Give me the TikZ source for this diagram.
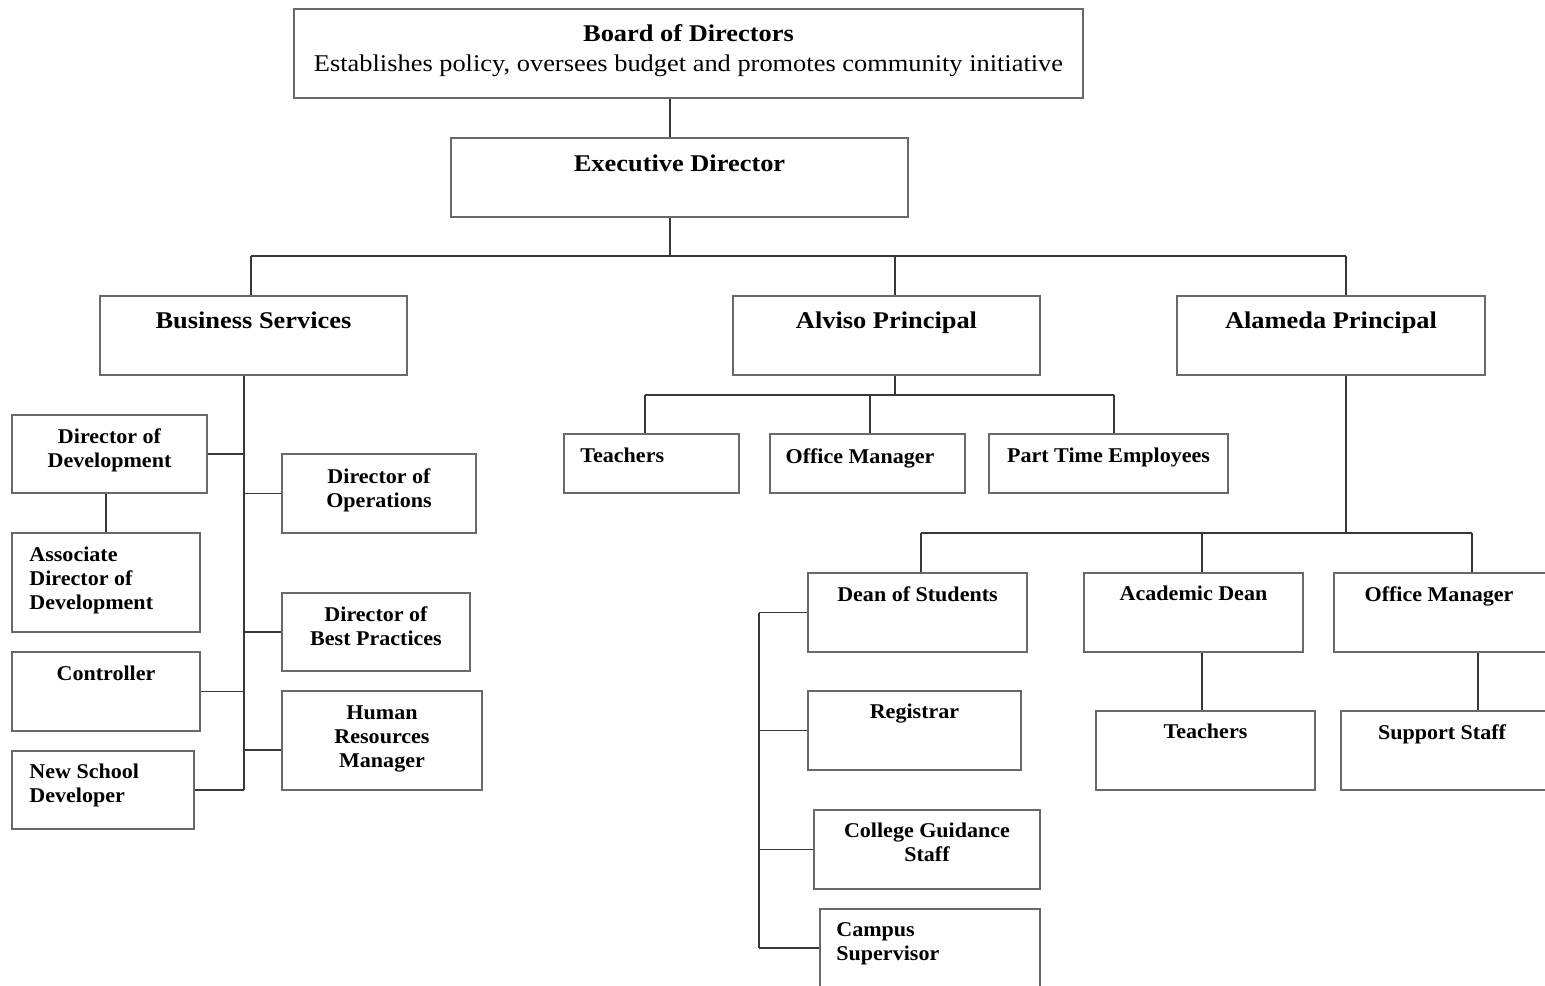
\documentclass[tikz,border=0pt]{standalone}
\usepackage{fontspec}
\setmainfont{Liberation Serif}
\newfontfamily\headfont[FakeStretch=1.1]{Liberation Serif}
\newfontfamily\lblfont[FakeStretch=1.05]{Liberation Serif}
\usetikzlibrary{positioning, fit}
\definecolor{boxgray}{RGB}{105,105,105}
\definecolor{linegray}{RGB}{55,55,55}

\begin{document}
\begin{tikzpicture}[x=0.5pt, y=-0.5pt,
  box/.style={draw=boxgray, line width=1pt, inner sep=0pt},
  conn/.style={draw=linegray, line width=0.95pt},
  head/.style={font=\headfont\fontsize{12}{15}\selectfont\bfseries, inner sep=0pt, align=center, anchor=north},
  lbl/.style={font=\lblfont\fontsize{10.5}{12}\selectfont\bfseries, inner sep=0pt, align=center, anchor=north},
  lbll/.style={lbl, align=left, anchor=north west}]

  \useasboundingbox (0,0) rectangle (1545,985);
  \clip (0,0) rectangle (1545,985);

  % Top of the chart
  \node[box, fit={(294,9) (1083,98)}] (board) {};
  \node[head] at ([yshift=-8pt]board.north) {Board of Directors\\\mdseries Establishes policy, oversees budget and promotes community initiative};
  \node[box, fit={(451,138) (908,217)}] (ed) {};
  \node[head] at ([yshift=-8.5pt]ed.north) {Executive Director};

  % Second level
  \node[box, fit={(100,296) (407,375)}] (bs) {};
  \node[head] at ([yshift=-8pt]bs.north) {Business Services};
  \node[box, fit={(733,296) (1040,375)}] (alv) {};
  \node[head] at ([yshift=-8pt]alv.north) {Alviso Principal};
  \node[box, fit={(1177,296) (1485,375)}] (alm) {};
  \node[head] at ([yshift=-8pt]alm.north) {Alameda Principal};

  % Business services staff
  \node[box, fit={(12,415) (207,493)}] (dod) {};
  \node[lbl] at ([yshift=-7pt]dod.north) {Director of\\Development};
  \node[box, fit={(12,533) (200,632)}] (adod) {};
  \node[lbll] at ([xshift=9pt, yshift=-7.5pt]adod.north west) {Associate\\Director of\\Development};
  \node[box, fit={(12,652) (200,731)}] (ctrl) {};
  \node[lbl] at ([yshift=-7.5pt]ctrl.north) {Controller};
  \node[box, fit={(12,751) (194,829)}] (nsd) {};
  \node[lbll] at ([xshift=9pt, yshift=-7pt]nsd.north west) {New School\\Developer};
  \node[box, fit={(282,454) (476,533)}] (dop) {};
  \node[lbl] at ([yshift=-7.5pt]dop.north) {Director of\\Operations};
  \node[box, fit={(282,593) (470,671)}] (dbp) {};
  \node[lbl] at ([yshift=-7pt]dbp.north) {Director of\\Best Practices};
  \node[box, fit={(282,691) (482,790)}] (hrm) {};
  \node[lbl] at ([yshift=-7.5pt]hrm.north) {Human\\Resources\\Manager};

  % Alviso staff
  \node[box, fit={(564,434) (739,493)}] (tch) {};
  \node[lbll] at ([xshift=8.5pt, yshift=-7.5pt]tch.north west) {Teachers};
  \node[box, fit={(770,434) (965,493)}] (om) {};
  \node[lbl] at ([xshift=-3.75pt, yshift=-7.5pt]om.north) {Office Manager};
  \node[box, fit={(989,434) (1228,493)}] (pte) {};
  \node[lbl] at ([yshift=-7.5pt]pte.north) {Part Time Employees};

  % Alameda staff
  \node[box, fit={(808,573) (1027,652)}] (dos) {};
  \node[lbl] at ([yshift=-7pt]dos.north) {Dean of Students};
  \node[box, fit={(1084,573) (1303,652)}] (ad) {};
  \node[lbl] at ([yshift=-7pt]ad.north) {Academic Dean};
  \node[box, fit={(1334,573) (1560,652)}] (om2) {};
  \node[lbl] at ([xshift=53pt, yshift=-7pt]om2.north west) {Office Manager};
  \node[box, fit={(1096,711) (1315,790)}] (tch2) {};
  \node[lbl] at ([yshift=-7pt]tch2.north) {Teachers};
  \node[box, fit={(1341,711) (1565,790)}] (ss) {};
  \node[lbl] at ([xshift=51pt, yshift=-7pt]ss.north west) {Support Staff};
  \node[box, fit={(808,691) (1021,770)}] (reg) {};
  \node[lbl] at ([yshift=-7pt]reg.north) {Registrar};
  \node[box, fit={(814,810) (1040,889)}] (cgs) {};
  \node[lbl] at ([yshift=-7pt]cgs.north) {College Guidance\\Staff};
  \node[box, fit={(820,909) (1040,988)}] (cs) {};
  \node[lbll] at ([xshift=8.5pt, yshift=-7pt]cs.north west) {Campus\\Supervisor};

  % Connectors, top
  \coordinate (c0) at (670,0);
  \coordinate (h0) at (670,256);
  \coordinate (h1) at (251,256);
  \coordinate (h2) at (895,256);
  \coordinate (h3) at (1346,256);
  \draw[conn] (board.south -| c0) -- (ed.north -| c0);
  \draw[conn] (ed.south -| h0) -- (h0);
  \draw[conn] (h1) -- (h3);
  \draw[conn] (h1) -- (bs.north -| h1);
  \draw[conn] (h2) -- (alv.north -| h2);
  \draw[conn] (h3) -- (alm.north -| h3);

  % Connectors, business services
  \coordinate (b0) at (244,790);
  \draw[conn] (bs.south -| b0) -- (b0);
  \draw[conn] (dod.east) -- (dod.east -| b0);
  \draw[conn] (ctrl.east) -- (ctrl.east -| b0);
  \draw[conn] (nsd.east) -- (b0);
  \draw[conn] (adod.north) -- (adod.north |- dod.south);
  \draw[conn] (dop.west) -- (dop.west -| b0);
  \draw[conn] (dbp.west) -- (dbp.west -| b0);
  \draw[conn] ([yshift=-4.75pt]hrm.west) -- ([yshift=-4.75pt]hrm.west -| b0);

  % Connectors, Alviso
  \coordinate (a1) at (645,395);
  \coordinate (a2) at (870,395);
  \coordinate (a3) at (1114,395);
  \draw[conn] (alv.south -| h2) -- (h2 |- a1);
  \draw[conn] (a1) -- (a3);
  \draw[conn] (a1) -- (tch.north -| a1);
  \draw[conn] (a2) -- (om.north -| a2);
  \draw[conn] (a3) -- (pte.north -| a3);

  % Connectors, Alameda
  \coordinate (m1) at (921,533);
  \coordinate (m2) at (1202,533);
  \coordinate (m3) at (1472,533);
  \coordinate (m4) at (1478,0);
  \draw[conn] (alm.south -| h3) -- (h3 |- m1);
  \draw[conn] (m1) -- (m3);
  \draw[conn] (m1) -- (dos.north -| m1);
  \draw[conn] (m2) -- (ad.north -| m2);
  \draw[conn] (m3) -- (om2.north -| m3);
  \draw[conn] (ad.south -| m2) -- (tch2.north -| m2);
  \draw[conn] (om2.south -| m4) -- (ss.north -| m4);

  % Connectors, dean of students
  \coordinate (d0) at (759,948);
  \draw[conn] (dos.west -| d0) -- (d0);
  \draw[conn] (dos.west) -- (dos.west -| d0);
  \draw[conn] (reg.west) -- (reg.west -| d0);
  \draw[conn] (cgs.west) -- (cgs.west -| d0);
  \draw[conn] (cs.west |- d0) -- (d0);
\end{tikzpicture}
\end{document}
